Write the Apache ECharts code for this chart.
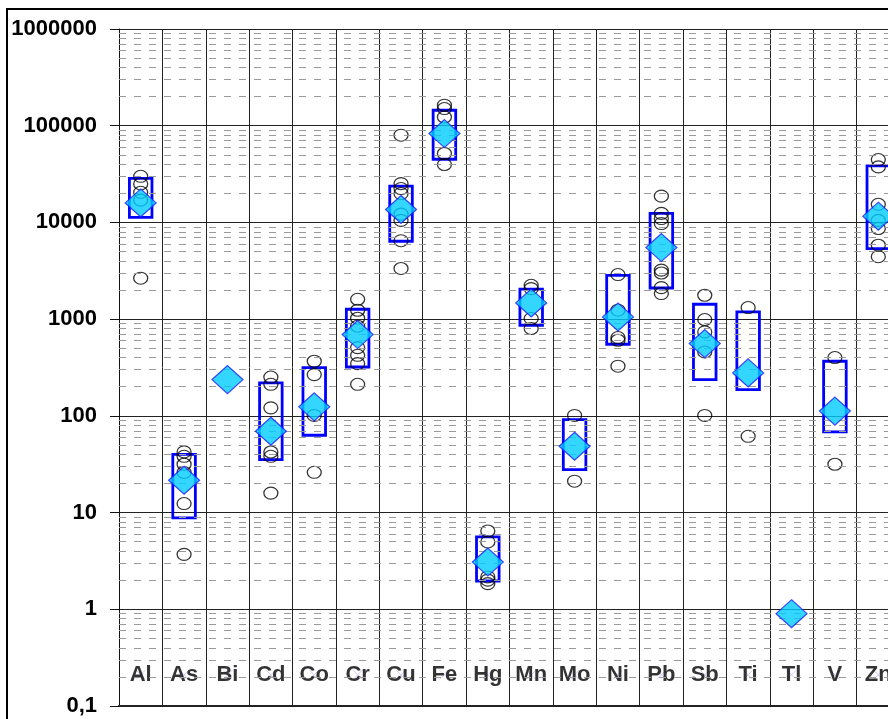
<!DOCTYPE html>
<html>
<head>
<meta charset="utf-8">
<script src="https://cdn.jsdelivr.net/npm/echarts@6/dist/echarts.min.js"></script>
<style>
html,body{margin:0;padding:0;background:#fff;overflow:hidden;width:888px;height:719px;}
#chart{width:920px;height:719px;}
</style>
</head>
<body>
<div id="chart"></div>
<script>
// ---- data ----
const categories = ['Al','As','Bi','Cd','Co','Cr','Cu','Fe','Hg','Mn','Mo','Ni','Pb','Sb','Ti','Tl','V','Zn'];
const boxLow  = [11300, 8.8, null, 35.3, 63, 320, 6390, 45000, 1.96, 865, 27.8, 550, 2100, 237, 187, null, 68.2, 5370];
const boxHigh = [28600, 40, null, 219, 316, 1265, 23700, 144500, 5.6, 2040, 91.6, 2840, 12400, 1426, 1187, null, 367, 38400];
const centerValues = [15900, 21.6, 237, 69.3, 124, 693, 13600, 83000, 3.08, 1470, 48.5, 1054, 5500, 559, 278, 0.90, 112, 11600];
const sampleValues = [
  [30000, 25000, 20500, 17000, 2650],            // Al
  [42.4, 38.2, 31.6, 26, 12.4, 3.7],             // As
  [],                                            // Bi
  [252, 212, 121, 42.3, 38.2, 15.9],             // Cd
  [367, 267, 101, 26.1],                         // Co
  [1605, 1236, 1022, 845, 508, 423, 347, 212],   // Cr
  [79800, 25200, 22400, 19900, 12200, 10500, 6470, 3340], // Cu
  [163000, 150500, 123000, 51600, 39700],        // Fe
  [6.45, 4.97, 2.16, 2.0, 1.84],                 // Hg
  [2240, 2070, 1015, 800],                       // Mn
  [101, 21.1],                                   // Mo
  [2890, 1237, 645, 605, 326],                   // Ni
  [18700, 12400, 10970, 9740, 3210, 3000, 2120, 1840], // Pb
  [1766, 991, 738, 458, 101],                    // Sb
  [1318, 61.5],                                  // Ti
  [],                                            // Tl
  [401, 31.6],                                   // V
  [44700, 37500, 15400, 10500, 8650, 5810, 4420] // Zn
];
const labelRowValue = 0.21;
const yMin = 0.1, yMax = 1000000;
const minorMultipliers = [2,3,4,5,6,7,8,9];
const decadeStarts = [0.1, 1, 10, 100, 1000, 10000, 100000];

// ---- build ----
const minorLines = [];
decadeStarts.forEach(d => minorMultipliers.forEach(m => minorLines.push({yAxis: +(d*m).toPrecision(6)})));

const boxData = [];
categories.forEach((c,i) => { if (boxLow[i] != null) boxData.push([i, boxLow[i], boxHigh[i]]); });
const sampleData = [];
sampleValues.forEach((arr,i) => arr.forEach(v => sampleData.push([i, v])));
const centerData = centerValues.map((v,i) => [i, v]);
const labelData = categories.map((c,i) => [i, labelRowValue]);

const font = "'Liberation Sans', Arial, sans-serif";
const chart = echarts.init(document.getElementById('chart'), null, {renderer:'canvas'});
chart.setOption({
  backgroundColor: '#fff',
  animation: false,
  grid: {left: 119, top: 29, width: 781, height: 677, containLabel: false},
  graphic: [{
    type: 'rect', z: 100,
    shape: {x: 7, y: 9, width: 1000, height: 800},
    style: {fill: 'none', stroke: '#000', lineWidth: 2}
  }],
  xAxis: {
    type: 'category', data: categories, boundaryGap: true,
    axisLine: {show: true, lineStyle: {color: '#222', width: 2}},
    axisTick: {show: false},
    axisLabel: {show: false},
    splitLine: {show: true, interval: 0, lineStyle: {color: '#222', width: 1}}
  },
  yAxis: {
    type: 'log', logBase: 10, min: yMin, max: yMax,
    axisLine: {show: true, lineStyle: {color: '#111', width: 1}},
    axisTick: {show: true, inside: false, length: 9, lineStyle: {color: '#111'}},
    axisLabel: {
      margin: 22, color: '#000', fontFamily: font, fontSize: 22, fontWeight: 'bold',
      formatter: v => v < 1 ? String(v).replace('.', ',') : String(Math.round(v))
    },
    splitLine: {show: true, lineStyle: {color: '#222', width: 1}},
    minorTick: {show: false}, minorSplitLine: {show: false}
  },
  series: [
    {
      type: 'scatter', name: 'labels', z: 1, silent: true,
      data: labelData,
      symbol: 'path://M0,0L10,10M10,0L0,10', symbolSize: 9,
      itemStyle: {color: 'none', borderColor: '#cdbdf2', borderWidth: 1},
      label: {show: true, position: 'inside', formatter: p => categories[p.data[0]],
        fontFamily: font, fontSize: 22, fontWeight: 'bold', color: '#000'},
      markLine: {
        silent: true, symbol: ['none','none'], label: {show: false},
        lineStyle: {color: '#9a9a9a', width: 1, type: [7, 8]},
        emphasis: {disabled: true},
        data: minorLines
      }
    },
    {
      type: 'custom', name: 'box', z: 3,
      data: boxData,
      encode: {x: 0, y: [1, 2]},
      renderItem: function (params, api) {
        const i = api.value(0);
        const lo = api.coord([i, api.value(1)]);
        const hi = api.coord([i, api.value(2)]);
        const w = api.size([1, 0])[0] * 0.52;
        return {
          type: 'rect',
          shape: {x: lo[0] - w/2, y: hi[1], width: w, height: lo[1] - hi[1]},
          style: {fill: 'none', stroke: '#0000ff', lineWidth: 2.8}
        };
      }
    },
    {
      type: 'scatter', name: 'samples', z: 4,
      data: sampleData,
      symbol: 'circle', symbolSize: [14, 12],
      itemStyle: {color: 'rgba(0,0,0,0)', borderColor: '#000', borderWidth: 1.2}
    },
    {
      type: 'scatter', name: 'center', z: 5,
      data: centerData,
      symbol: 'diamond', symbolSize: [31, 28],
      itemStyle: {color: '#00ccff', borderColor: '#1a1aff', borderWidth: 1.2}
    }
  ]
});
</script>
</body>
</html>
